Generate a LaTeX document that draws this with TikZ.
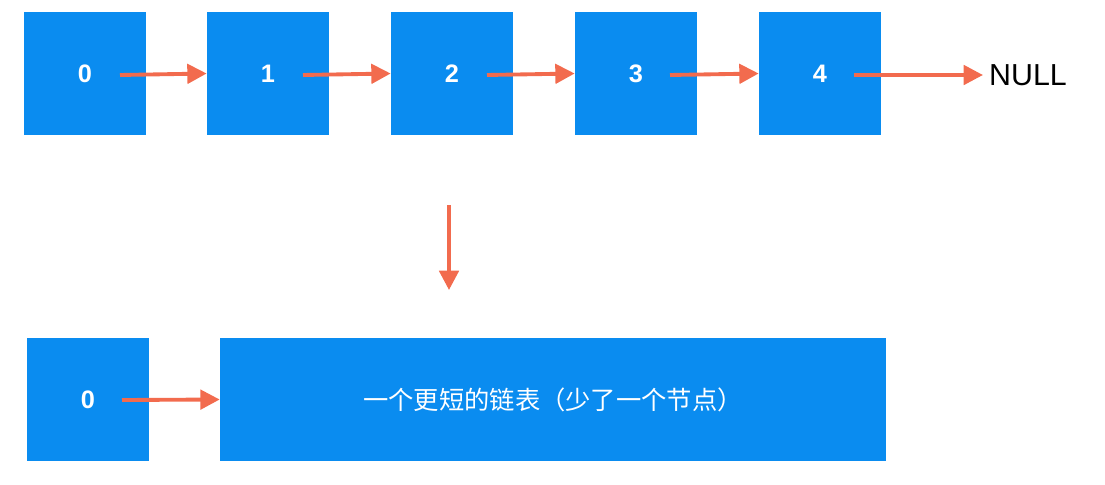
\documentclass[tikz,border=0pt]{standalone}
\usepackage{fontspec}
\setmainfont{Liberation Sans}
\newfontfamily\cjk{Noto Sans CJK SC}
\usetikzlibrary{arrows.meta}
\definecolor{boxblue}{HTML}{0A8CF0}
\definecolor{arr}{HTML}{F26B4E}
\begin{document}
\begin{tikzpicture}[x=0.02cm,y=-0.02cm,
  blk/.style={fill=boxblue,draw=none,inner sep=0,text=white,font=\bfseries\Large},
  link/.style={draw=arr,line width=2.2pt,-{Triangle[length=11pt,width=11pt]}}]
\useasboundingbox (0,0) rectangle (1105,484);
\foreach \i/\x in {0/24,1/207,2/391,3/575,4/759}{
  \node[blk,minimum width=2.44cm,minimum height=2.46cm] (n\i) at (\x+61,73.5) {\i};
}
\node[font=\LARGE,anchor=center] (null) at (1028,75) {NULL};
\coordinate (a0) at (120,75);
\foreach \i/\j/\s in {0/1/120,1/2/303,2/3/487,3/4/670}{
  \draw[link] (\s,75) -- (n\j.west);
}
\draw[link] (854,75) -- (null.west);
\coordinate (d0) at (449,205);
\coordinate (d1) at (449,290);
\draw[link] (d0) -- (d1);
\node[blk,minimum width=2.44cm,minimum height=2.46cm] (m0) at (88,399.5) {0};
\node[blk,minimum width=13.32cm,minimum height=2.46cm,font=\cjk\Large] (rest) at (553,399.5) {一个更短的链表（少了一个节点）};
\draw[link] (122,400) -- (rest.west);
\end{tikzpicture}
\end{document}
